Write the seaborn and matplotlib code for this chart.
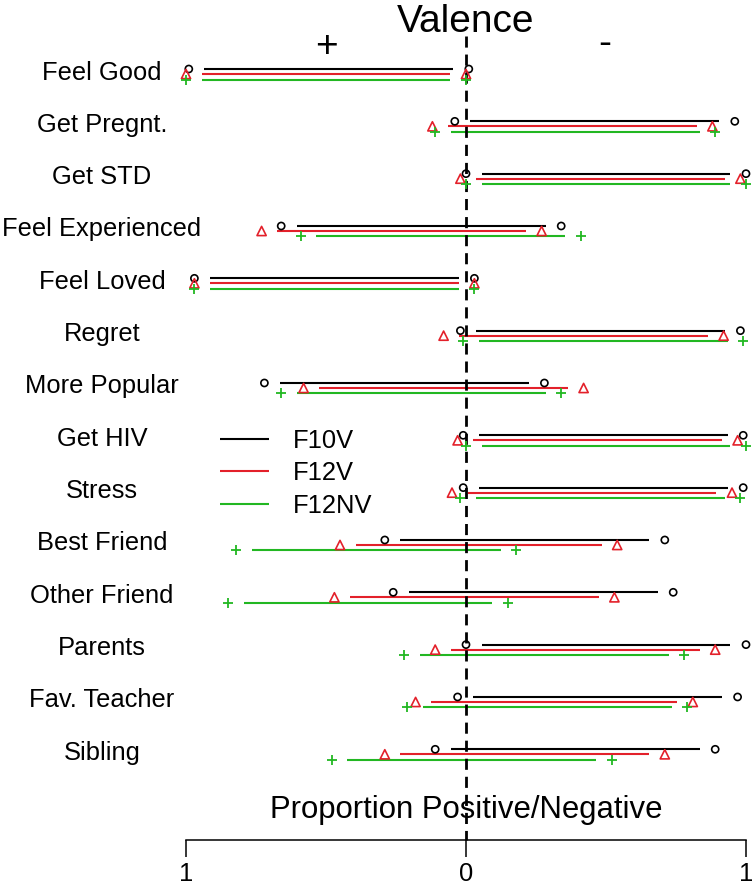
import matplotlib
matplotlib.use("Agg")

import matplotlib.pyplot as plt
import seaborn as sns
import numpy as np

# categories (top to bottom)
categories = ["Feel Good", "Get Pregnt.", "Get STD", "Feel Experienced",
              "Feel Loved", "Regret", "More Popular", "Get HIV", "Stress",
              "Best Friend", "Other Friend", "Parents", "Fav. Teacher", "Sibling"]

series_names = ["F10V", "F12V", "F12NV"]

# proportion positive (plotted to the left) / negative (to the right)
f10v_pos = [0.99, 0.04, 0.00, 0.66, 0.97, 0.02, 0.72, 0.01, 0.01, 0.29, 0.26, 0.00, 0.03, 0.11]
f10v_neg = [0.01, 0.96, 1.00, 0.34, 0.03, 0.98, 0.28, 0.99, 0.99, 0.71, 0.74, 1.00, 0.97, 0.89]
f12v_pos = [1.00, 0.12, 0.02, 0.73, 0.97, 0.08, 0.58, 0.03, 0.05, 0.45, 0.47, 0.11, 0.18, 0.29]
f12v_neg = [0.00, 0.88, 0.98, 0.27, 0.03, 0.92, 0.42, 0.97, 0.95, 0.54, 0.53, 0.89, 0.81, 0.71]
f12nv_pos = [1.00, 0.11, 0.00, 0.59, 0.97, 0.01, 0.66, 0.00, 0.02, 0.82, 0.85, 0.22, 0.21, 0.48]
f12nv_neg = [0.00, 0.89, 1.00, 0.41, 0.03, 0.99, 0.34, 1.00, 0.98, 0.18, 0.15, 0.78, 0.79, 0.52]

x_ticks = [-1, 0, 1]
x_tick_labels = ["1", "0", "1"]

sns.set_style("white")
plt.rcParams["font.family"] = ["Liberation Sans", "DejaVu Sans"]
plt.rcParams["text.color"] = "black"
plt.rcParams["xtick.color"] = "black"
plt.rcParams["xtick.labelcolor"] = "black"

W, H, DPI = 754, 891, 100
fig = plt.figure(figsize=(W / DPI, H / DPI), dpi=DPI)
ax = fig.add_axes([0, 0, 1, 1])

PX = 280.0   # pixels per unit of proportion
X0 = 466.0   # pixel position of zero

row_y = 74 + 52.33 * np.arange(len(categories))
offsets = [-5, 0, 5.5]
colors = ["black", "#e3202a", "#22b722"]
markers = ["o", "^", "+"]
sizes = [26, 44, 60]
gap = 0.056
FS = 18.4

series = [(f10v_pos, f10v_neg), (f12v_pos, f12v_neg), (f12nv_pos, f12nv_neg)]

for name, (pos, neg), off, col, mk, sz in zip(series_names, series, offsets, colors, markers, sizes):
    y = row_y + off
    left = -np.array(pos)
    right = np.array(neg)
    ax.hlines(y, left + gap, right - gap, colors=col, lw=1.5, label=name)
    xs = np.concatenate([left, right])
    ys = np.concatenate([y, y])
    if mk == "+":
        sns.scatterplot(x=xs, y=ys, marker="+", color=col, s=sz, linewidth=1.3, ax=ax, zorder=3)
    else:
        sns.scatterplot(x=xs, y=ys, marker=mk, color=col, facecolors="none",
                        edgecolor=col, s=sz, linewidth=1.2, ax=ax, zorder=3)

# category labels
for cat, y in zip(categories, row_y):
    ax.text((102 - X0) / PX, y + 5.5, cat, ha="center", va="baseline", fontsize=FS)

# dashed zero line
ax.vlines(0, 36, 840, colors="black", linestyles=(0, (4, 2.5)), lw=2)

# titles
ax.text(0, 32, "Valence", ha="center", va="baseline", fontsize=28)
ax.text((326 - X0) / PX, 57, "+", ha="center", va="baseline", fontsize=28)
ax.text((605 - X0) / PX, 54, "-", ha="center", va="baseline", fontsize=28)
ax.text(0, 818, "Proportion Positive/Negative", ha="center", va="baseline", fontsize=22.4)

# legend
ax.legend(loc="upper left", bbox_to_anchor=(220 / W, 1 - 429 / H), bbox_transform=fig.transFigure,
          frameon=False, fontsize=FS, handlelength=1.9, handletextpad=0.95,
          labelspacing=0.33, borderpad=0, borderaxespad=0, labelcolor="black")

ax.set_xlim(-X0 / PX, (W - X0) / PX)
ax.set_ylim(H, 0)

# bottom axis
for s in ["top", "left", "right"]:
    ax.spines[s].set_visible(False)
ax.spines["bottom"].set_position(("data", 840))
ax.spines["bottom"].set_bounds(-1, 1)
ax.spines["bottom"].set_linewidth(1.1)
ax.spines["bottom"].set_color("black")
ax.set_xticks(x_ticks)
ax.set_xticklabels(x_tick_labels)
ax.set_yticks([])
ax.tick_params(axis="x", bottom=True, direction="out", length=12, width=1.1,
               labelsize=FS, pad=4, colors="black")
ax.set_xlabel("")
ax.set_ylabel("")

fig.savefig("out.png", dpi=DPI)
plt.close(fig)
